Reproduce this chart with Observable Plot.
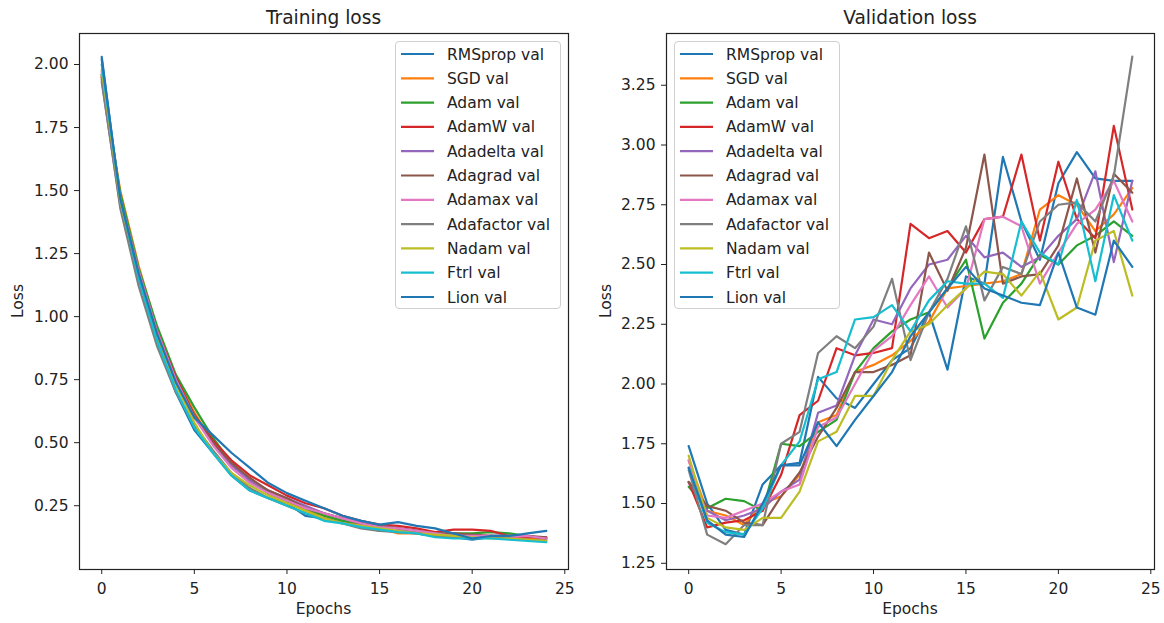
<!DOCTYPE html>
<html>
<head>
<meta charset="utf-8">
<script src="https://cdn.jsdelivr.net/npm/d3@7"></script>
<script src="https://cdn.jsdelivr.net/npm/@observablehq/plot@0.6"></script>
<style>
  html, body { margin: 0; padding: 0; background: white; }
  #wrap { position: relative; width: 1164px; height: 623px; overflow: hidden; background: white; }
  #wrap > svg { position: absolute; top: 0; }
</style>
</head>
<body>
<div id="wrap"></div>
<script>
// ---------- data ----------
const epochs = [0,1,2,3,4,5,6,7,8,9,10,11,12,13,14,15,16,17,18,19,20,21,22,23,24];
const optimizers = ["RMSprop","SGD","Adam","AdamW","Adadelta","Adagrad","Adamax","Adafactor","Nadam","Ftrl","Lion"];
const colors = ["#1f77b4","#ff7f0e","#2ca02c","#d62728","#9467bd","#8c564b","#e377c2","#7f7f7f","#bcbd22","#17becf","#1f77b4"];
const xTicks = [0,5,10,15,20,25];
const trainTicks = [0.25,0.50,0.75,1.00,1.25,1.50,1.75,2.00];
const valTicks = [1.25,1.50,1.75,2.00,2.25,2.50,2.75,3.00,3.25];

// training loss per optimizer
const trainRMSprop   = [2.03,1.46,1.15,0.90,0.70,0.55,0.46,0.37,0.31,0.28,0.26,0.21,0.20,0.18,0.17,0.15,0.15,0.14,0.13,0.125,0.115,0.125,0.13,0.125,0.12];
const trainSGD       = [1.95,1.50,1.20,0.95,0.76,0.62,0.50,0.42,0.35,0.30,0.27,0.23,0.21,0.19,0.17,0.16,0.14,0.14,0.13,0.13,0.125,0.13,0.125,0.12,0.115];
const trainAdam      = [1.96,1.49,1.19,0.96,0.77,0.64,0.52,0.42,0.35,0.30,0.27,0.24,0.21,0.19,0.18,0.17,0.16,0.15,0.14,0.14,0.14,0.145,0.14,0.13,0.12];
const trainAdamW     = [1.95,1.45,1.17,0.94,0.76,0.61,0.51,0.43,0.37,0.33,0.29,0.26,0.24,0.21,0.19,0.175,0.17,0.16,0.145,0.155,0.155,0.15,0.13,0.125,0.125];
const trainAdadelta  = [1.93,1.44,1.15,0.93,0.75,0.60,0.50,0.41,0.35,0.31,0.28,0.25,0.22,0.20,0.19,0.17,0.16,0.15,0.14,0.14,0.13,0.13,0.13,0.13,0.12];
const trainAdagrad   = [1.96,1.45,1.16,0.92,0.74,0.61,0.50,0.42,0.36,0.31,0.28,0.24,0.22,0.20,0.18,0.17,0.16,0.15,0.14,0.14,0.135,0.13,0.13,0.13,0.125];
const trainAdamax    = [1.97,1.47,1.18,0.94,0.75,0.60,0.49,0.40,0.34,0.30,0.27,0.24,0.22,0.20,0.18,0.165,0.16,0.15,0.14,0.13,0.13,0.13,0.125,0.13,0.12];
const trainAdafactor = [1.94,1.43,1.12,0.88,0.70,0.57,0.47,0.38,0.32,0.28,0.25,0.22,0.20,0.18,0.16,0.15,0.145,0.14,0.13,0.125,0.12,0.125,0.12,0.115,0.11];
const trainNadam     = [1.98,1.46,1.16,0.92,0.73,0.58,0.46,0.38,0.33,0.29,0.26,0.23,0.20,0.18,0.17,0.16,0.15,0.14,0.135,0.13,0.125,0.12,0.12,0.115,0.11];
const trainFtrl      = [2.00,1.47,1.15,0.90,0.71,0.56,0.46,0.37,0.31,0.28,0.25,0.22,0.19,0.18,0.165,0.155,0.145,0.14,0.125,0.12,0.12,0.12,0.115,0.11,0.105];
const trainLion      = [2.02,1.47,1.17,0.93,0.74,0.60,0.53,0.46,0.40,0.34,0.30,0.27,0.24,0.21,0.19,0.175,0.185,0.17,0.16,0.14,0.12,0.13,0.13,0.14,0.15];

// validation loss per optimizer
const valRMSprop   = [1.74,1.50,1.39,1.37,1.58,1.66,1.67,2.03,1.94,1.90,2.00,2.10,2.15,2.30,2.06,2.45,2.42,2.95,2.68,2.52,2.84,2.97,2.86,2.85,2.85];
const valSGD       = [1.68,1.47,1.45,1.41,1.50,1.53,1.62,1.84,1.87,2.05,2.08,2.12,2.18,2.26,2.40,2.41,2.42,2.43,2.46,2.73,2.79,2.75,2.64,2.71,2.82];
const valAdam      = [1.57,1.48,1.52,1.51,1.47,1.75,1.74,1.80,1.85,2.05,2.15,2.22,2.27,2.30,2.40,2.52,2.19,2.34,2.42,2.54,2.50,2.58,2.62,2.68,2.62];
const valAdamW     = [1.59,1.40,1.42,1.43,1.47,1.62,1.87,1.93,2.15,2.12,2.13,2.15,2.67,2.61,2.64,2.55,2.69,2.70,2.96,2.60,2.93,2.69,2.61,3.08,2.73];
const valAdadelta  = [1.59,1.47,1.43,1.45,1.48,1.55,1.60,1.88,1.91,2.12,2.27,2.25,2.40,2.50,2.52,2.62,2.53,2.55,2.49,2.53,2.62,2.69,2.89,2.51,2.85];
const valAdagrad   = [1.59,1.49,1.47,1.42,1.41,1.53,1.63,1.78,1.90,2.05,2.05,2.08,2.12,2.55,2.39,2.57,2.96,2.42,2.45,2.46,2.58,2.86,2.55,2.88,2.80];
const valAdamax    = [1.68,1.45,1.44,1.47,1.50,1.55,1.58,1.82,1.86,2.00,2.14,2.20,2.33,2.45,2.32,2.40,2.69,2.70,2.66,2.42,2.55,2.67,2.73,2.85,2.68];
const valAdafactor = [1.64,1.37,1.33,1.41,1.41,1.75,1.80,2.13,2.20,2.15,2.24,2.44,2.10,2.30,2.44,2.66,2.35,2.49,2.46,2.68,2.75,2.76,2.68,2.87,3.37];
const valNadam     = [1.70,1.44,1.40,1.39,1.44,1.44,1.55,1.76,1.80,1.95,1.95,2.10,2.22,2.25,2.33,2.40,2.47,2.46,2.37,2.47,2.27,2.32,2.60,2.64,2.37];
const valFtrl      = [1.65,1.42,1.38,1.37,1.48,1.66,1.76,2.02,2.05,2.27,2.28,2.33,2.22,2.35,2.43,2.42,2.42,2.36,2.68,2.55,2.50,2.77,2.43,2.79,2.60];
const valLion      = [1.65,1.43,1.37,1.36,1.50,1.66,1.66,1.84,1.74,1.85,1.95,2.05,2.20,2.30,2.40,2.49,2.40,2.37,2.34,2.33,2.55,2.32,2.29,2.60,2.49];

const trainSeries = [trainRMSprop,trainSGD,trainAdam,trainAdamW,trainAdadelta,trainAdagrad,trainAdamax,trainAdafactor,trainNadam,trainFtrl,trainLion];
const valSeries = [valRMSprop,valSGD,valAdam,valAdamW,valAdadelta,valAdagrad,valAdamax,valAdafactor,valNadam,valFtrl,valLion];

// ---------- drawing ----------
const FONT = "DejaVu Sans, sans-serif";
const fmt = d3.format(".2f");

function panel(series, yDomain, yTicks, width, ml, mr) {
  const lines = series.map((vals, i) =>
    Plot.line(epochs.map((e, j) => ({epoch: e, loss: vals[j]})),
      {x: "epoch", y: "loss", stroke: colors[i], strokeWidth: 2.2}));
  return Plot.plot({
    width, height: 623,
    marginLeft: ml, marginRight: mr, marginTop: 33, marginBottom: 54,
    style: {fontFamily: FONT, fontSize: "15.5px", color: "#222", background: "white", overflow: "visible"},
    x: {domain: [-1.2, 25.2]},
    y: {domain: yDomain},
    marks: [
      ...lines,
      Plot.frame({stroke: "#222", strokeWidth: 1.2}),
      Plot.axisX({ticks: xTicks, tickSize: 5, tickPadding: 8, label: null, tickFormat: d => String(d)}),
      Plot.axisY({ticks: yTicks, tickSize: 5, tickPadding: 6, label: null, tickFormat: fmt})
    ]
  });
}

const wrap = document.getElementById("wrap");
const left = panel(trainSeries, [-0.003, 2.123], trainTicks, 580, 79, 12);
left.style.left = "0px";
wrap.appendChild(left);
const right = panel(valSeries, [1.224, 3.4665], valTicks, 584, 86, 10);
right.style.left = "580px";
wrap.appendChild(right);

// overlay: titles, axis labels, legends
const ov = d3.create("svg")
  .attr("width", 1164).attr("height", 623)
  .style("position", "absolute").style("left", "0px").style("top", "0px")
  .style("pointer-events", "none")
  .attr("font-family", FONT).attr("fill", "#222");

const panels = [
  {title: "Training loss", fx0: 79, fx1: 568, ylabX: 23, legX: 395},
  {title: "Validation loss", fx0: 666, fx1: 1154, ylabX: 611, legX: 674}
];
panels.forEach(p => {
  const cx = (p.fx0 + p.fx1) / 2;
  ov.append("text").attr("x", cx).attr("y", 24).attr("text-anchor", "middle")
    .attr("font-size", 18.6).text(p.title);
  ov.append("text").attr("x", cx).attr("y", 614).attr("text-anchor", "middle")
    .attr("font-size", 15.5).text("Epochs");
  ov.append("text").attr("transform", `translate(${p.ylabX},301) rotate(-90)`)
    .attr("text-anchor", "middle").attr("font-size", 15.5).text("Loss");
  // legend
  const g = ov.append("g");
  g.append("rect").attr("x", p.legX + 0.5).attr("y", 41.5).attr("width", 165).attr("height", 267)
    .attr("rx", 3.5).attr("fill", "white").attr("fill-opacity", 0.8)
    .attr("stroke", "#d0d0d0").attr("stroke-width", 1);
  optimizers.forEach((name, i) => {
    const y = 54 + 24.3 * i;
    g.append("line").attr("x1", p.legX + 6).attr("x2", p.legX + 39)
      .attr("y1", y).attr("y2", y).attr("stroke", colors[i]).attr("stroke-width", 2.2);
    g.append("text").attr("x", p.legX + 52).attr("y", y).attr("dy", "0.36em")
      .attr("font-size", 15.5).text(name + " val");
  });
});
wrap.appendChild(ov.node());
</script>
</body>
</html>
